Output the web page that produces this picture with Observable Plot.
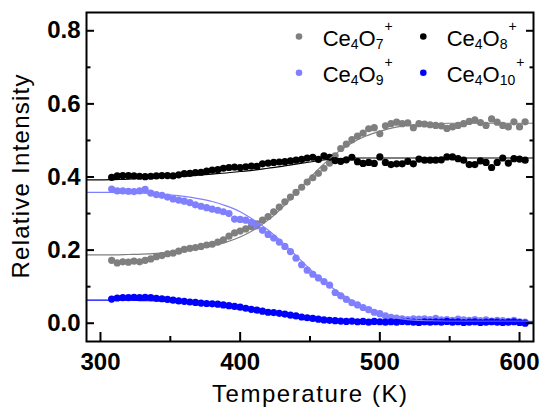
<!DOCTYPE html>
<html><head><meta charset="utf-8">
<script src="https://cdn.jsdelivr.net/npm/d3@7"></script>
<script src="https://cdn.jsdelivr.net/npm/@observablehq/plot@0.6"></script>
<style>html,body{margin:0;padding:0;background:#fff;}</style>
</head><body><div id="chart"></div>
<script>
// Measured temperatures (K)
const temps = [308,312,316,320,324,328,332,336,340,344,348,352,356,360,364,368,372,376,380,384,388,392,396,400,404,408,412,416,420,424,428,432,436,440,444,448,452,456,460,464,468,472,476,480,484,488,492,496,500,504,508,512,516,520,524,528,532,536,540,544,548,552,556,560,564,568,572,576,580,584,588,592,596,600,604];

const ce4o7 = [0.172,0.165,0.168,0.167,0.170,0.168,0.172,0.176,0.182,0.185,0.190,0.192,0.197,0.202,0.205,0.207,0.210,0.214,0.216,0.222,0.228,0.238,0.247,0.252,0.258,0.264,0.272,0.282,0.292,0.305,0.318,0.332,0.345,0.358,0.372,0.386,0.398,0.410,0.424,0.438,0.458,0.478,0.490,0.502,0.512,0.520,0.532,0.535,0.518,0.540,0.546,0.550,0.546,0.548,0.535,0.546,0.545,0.543,0.541,0.540,0.533,0.537,0.541,0.546,0.552,0.556,0.549,0.541,0.559,0.550,0.541,0.537,0.551,0.537,0.551];

const ce4o8 = [0.399,0.403,0.404,0.404,0.403,0.402,0.401,0.402,0.403,0.404,0.404,0.403,0.406,0.409,0.410,0.412,0.413,0.416,0.419,0.420,0.424,0.426,0.427,0.426,0.428,0.430,0.429,0.436,0.438,0.440,0.441,0.442,0.444,0.446,0.448,0.452,0.454,0.448,0.458,0.454,0.445,0.443,0.447,0.454,0.442,0.437,0.440,0.437,0.455,0.440,0.434,0.436,0.436,0.443,0.436,0.449,0.446,0.446,0.446,0.447,0.455,0.455,0.450,0.446,0.434,0.434,0.444,0.440,0.426,0.440,0.452,0.438,0.450,0.449,0.446];

const ce4o9 = [0.367,0.362,0.362,0.361,0.360,0.362,0.366,0.356,0.352,0.350,0.345,0.340,0.337,0.334,0.330,0.324,0.320,0.316,0.312,0.309,0.305,0.300,0.285,0.284,0.282,0.276,0.266,0.254,0.243,0.233,0.222,0.210,0.196,0.178,0.160,0.145,0.134,0.124,0.114,0.104,0.084,0.075,0.065,0.056,0.050,0.043,0.037,0.030,0.026,0.020,0.016,0.014,0.012,0.010,0.012,0.011,0.012,0.010,0.013,0.009,0.010,0.008,0.011,0.009,0.008,0.010,0.007,0.009,0.006,0.008,0.007,0.005,0.008,0.004,0.003];

const ce4o10 = [0.066,0.069,0.070,0.070,0.071,0.070,0.071,0.070,0.068,0.067,0.065,0.063,0.061,0.060,0.058,0.057,0.055,0.054,0.053,0.052,0.050,0.048,0.046,0.044,0.041,0.038,0.036,0.033,0.030,0.029,0.027,0.025,0.022,0.020,0.017,0.015,0.013,0.011,0.009,0.008,0.007,0.006,0.005,0.006,0.004,0.005,0.003,0.005,0.004,0.003,0.004,0.003,0.005,0.004,0.003,0.002,0.004,0.003,0.004,0.003,0.005,0.003,0.004,0.002,0.003,0.004,0.002,0.003,0.004,0.003,0.002,0.003,0.004,0.002,0.000];

// Fit curves
const fitTemps = [290,300,310,320,330,340,350,360,370,380,390,400,410,420,430,440,450,460,470,480,490,500,510,520,530,540,550,560,570,580,590,600,610];
const fitCe4o7 = [0.187,0.187,0.187,0.188,0.189,0.191,0.194,0.198,0.204,0.212,0.222,0.236,0.256,0.282,0.316,0.356,0.398,0.436,0.468,0.493,0.512,0.525,0.535,0.541,0.544,0.546,0.547,0.547,0.547,0.547,0.547,0.547,0.547];
const fitCe4o8 = [0.392,0.392,0.393,0.394,0.396,0.398,0.400,0.402,0.405,0.408,0.411,0.415,0.419,0.424,0.429,0.435,0.441,0.447,0.450,0.452,0.452,0.452,0.452,0.452,0.452,0.452,0.452,0.452,0.452,0.452,0.452,0.452,0.452];
const fitCe4o9 = [0.358,0.358,0.358,0.357,0.356,0.354,0.351,0.347,0.341,0.333,0.321,0.305,0.282,0.255,0.222,0.185,0.148,0.115,0.086,0.062,0.042,0.027,0.016,0.010,0.007,0.006,0.005,0.005,0.005,0.005,0.005,0.005,0.005];
const fitCe4o10 = [0.063,0.063,0.063,0.063,0.062,0.061,0.060,0.058,0.056,0.053,0.049,0.044,0.039,0.033,0.027,0.021,0.016,0.012,0.009,0.007,0.005,0.004,0.004,0.003,0.003,0.003,0.003,0.003,0.003,0.003,0.003,0.003,0.003];

// Ticks
const xMajor = [300,400,500,600];
const xMinor = [350,450,550];
const yMajor = [0,0.2,0.4,0.6,0.8];
const yMinor = [0.1,0.3,0.5,0.7];

const series = [
  {sub1:"4", sub2:"7", color:"#7f7f7f", values: ce4o7, fit: fitCe4o7},
  {sub1:"4", sub2:"8", color:"#000000", values: ce4o8, fit: fitCe4o8},
  {sub1:"4", sub2:"9", color:"#8080ff", values: ce4o9, fit: fitCe4o9},
  {sub1:"4", sub2:"10", color:"#0000ff", values: ce4o10, fit: fitCe4o10}
];

const dotMarks = series.map(s => Plot.dot(temps.map((t,i)=>({T:t, v:s.values[i]})), {x:"T", y:"v", r:3.6, fill:s.color, stroke:"none"}));
const lineMarks = series.map(s => Plot.line(fitTemps.map((t,i)=>({T:t, v:s.fit[i]})), {x:"T", y:"v", stroke:s.color, strokeWidth:1.2, curve:"monotone-x"}));

const blank = () => "";
const plot = Plot.plot({
  width: 543, height: 407,
  marginLeft: 86, marginRight: 10, marginTop: 12, marginBottom: 66,
  style: {fontFamily: "'Liberation Sans', Arial, sans-serif", background: "#fff", color: "#000"},
  x: {domain: [290, 610]},
  y: {domain: [-0.05, 0.85]},
  marks: [
    ...dotMarks,
    ...lineMarks,
    Plot.axisY({ticks: yMajor, tickSize: 0, tickPadding: 6, tickFormat: d3.format(".1f"), fontSize: 24, fontWeight: "bold", label: null}),
    Plot.axisY({ticks: yMajor, tickSize: -8, tickFormat: blank, strokeWidth: 2, label: null}),
    Plot.axisY({ticks: yMinor, tickSize: -4.5, tickFormat: blank, strokeWidth: 2, label: null}),
    Plot.axisY({anchor: "right", ticks: yMajor, tickSize: -8, tickFormat: blank, strokeWidth: 2, label: null}),
    Plot.axisY({anchor: "right", ticks: yMinor, tickSize: -4.5, tickFormat: blank, strokeWidth: 2, label: null}),
    Plot.axisX({ticks: xMajor, tickSize: 0, tickPadding: 11, tickFormat: d3.format("d"), fontSize: 24, fontWeight: "bold", label: null}),
    Plot.axisX({ticks: xMajor, tickSize: -9, tickFormat: blank, strokeWidth: 2, label: null}),
    Plot.axisX({ticks: xMinor, tickSize: -5, tickFormat: blank, strokeWidth: 2, label: null}),
    Plot.frame({stroke: "#000", strokeWidth: 2})
  ]
});
document.getElementById("chart").appendChild(plot);

const svg = d3.select(plot);
svg.append("text")
  .attr("transform", "translate(28.5,176.5) rotate(-90)")
  .attr("text-anchor", "middle")
  .attr("font-size", 24)
  .attr("textLength", 204)
  .attr("lengthAdjust", "spacing")
  .attr("fill", "#000")
  .text("Relative Intensity");
svg.append("text")
  .attr("x", 309.5).attr("y", 401.5)
  .attr("text-anchor", "middle")
  .attr("font-size", 24)
  .attr("textLength", 195)
  .attr("lengthAdjust", "spacing")
  .attr("fill", "#000")
  .text("Temperature (K)");

// Legend
const legendPos = [
  {dx: 299, tx: 322.7, dy: 36.5, by: 46},
  {dx: 423.3, tx: 446.7, dy: 36.5, by: 46},
  {dx: 299, tx: 322.7, dy: 72.7, by: 81.7},
  {dx: 423.3, tx: 446.7, dy: 72.7, by: 81.7}
];
series.forEach((s, i) => {
  const p = legendPos[i];
  svg.append("circle").attr("cx", p.dx).attr("cy", p.dy).attr("r", 3.3).attr("fill", s.color);
  const t = svg.append("text").attr("x", p.tx).attr("y", p.by).attr("font-size", 22)
    .attr("text-anchor", "start").attr("fill", "#000");
  t.append("tspan").text("Ce");
  t.append("tspan").attr("font-size", 14).attr("dy", 3).text(s.sub1);
  t.append("tspan").attr("dy", -3).text("O");
  t.append("tspan").attr("font-size", 14).attr("dy", 3).text(s.sub2);
  t.append("tspan").attr("font-size", 14).attr("dx", 1).attr("dy", -18).text("+");
});
</script>
</body></html>
